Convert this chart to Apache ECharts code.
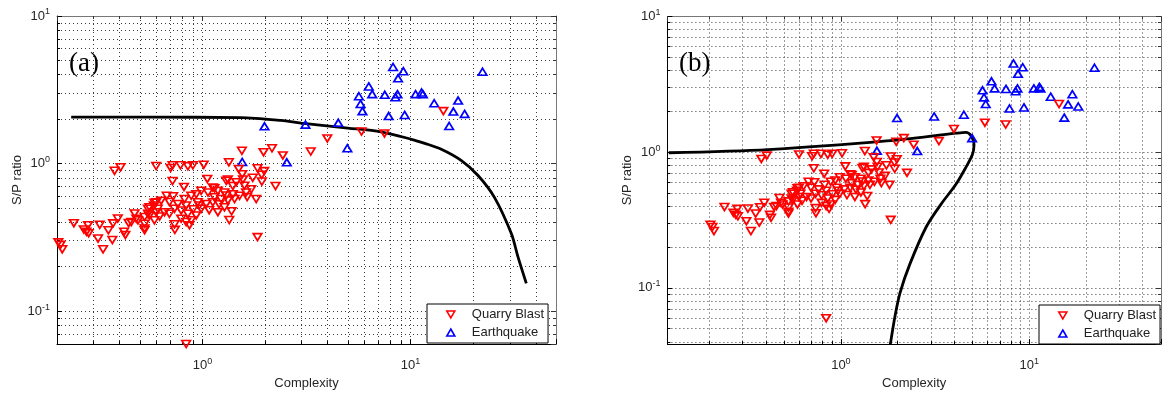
<!DOCTYPE html>
<html><head><meta charset="utf-8">
<script src="https://cdn.jsdelivr.net/npm/echarts@6/dist/echarts.min.js"></script>
<style>html,body{margin:0;padding:0;background:#fff}#c{width:1164px;height:395px}</style>
</head><body><div id="c"></div>
<script>
// ---- data ----
const seriesNames = ['Quarry Blast', 'Earthquake'];
const panelLabels = ['(a)', '(b)'];
const xName = 'Complexity';
const yName = 'S/P ratio';
const xRangeA = [0.2, 50];
const yRangeA = [0.0597, 10];
const xRangeB = [0.12, 50];
const yRangeB = [0.0385, 10];

const quarryBlast = [
  [0.203,0.292],[0.208,0.281],[0.212,0.262],[0.241,0.394],[0.269,0.357],[0.277,0.345],[0.282,0.382],[0.284,0.337],
  [0.315,0.31],[0.321,0.384],[0.333,0.262],[0.353,0.353],[0.369,0.303],[0.372,0.393],[0.392,0.424],[0.42,0.345],
  [0.426,0.328],[0.442,0.395],[0.472,0.459],[0.49,0.412],[0.527,0.363],[0.527,0.391],[0.527,0.434],[0.547,0.493],
  [0.556,0.445],[0.588,0.542],[0.61,0.493],[0.588,0.412],[0.622,0.438],[0.599,0.468],
  [0.378,0.892],[0.404,0.943],[0.599,0.962],[0.703,0.933],[0.718,0.973],[0.784,0.973],[0.851,0.958],[0.899,0.973],
  [1.014,0.982],[0.718,0.761],[0.815,0.694],[1.055,0.786],[1.34,1.019],[1.547,1.221],[1.965,1.193],[2.158,1.269],
  [2.433,1.135],[3.314,1.206],[3.98,1.48],[5.81,1.649],[7.49,1.6],[14.38,2.265],
  [1.493,0.919],[1.839,0.929],[1.98,0.888],[1.553,0.847],[1.745,0.8],[1.926,0.838],[1.565,0.78],[1.93,0.755],
  [1.3,0.764],[1.453,0.747],[1.592,0.708],[2.244,0.704],[1.715,0.669],[1.812,0.575],[1.64,0.592],[1.507,0.605],
  [1.4,0.619],[1.276,0.636],[1.186,0.653],[1.122,0.687],[1.063,0.636],[0.986,0.653],[0.933,0.619],[0.883,0.605],
  [0.82,0.575],[0.762,0.532],[0.723,0.6],[0.673,0.605],[0.633,0.56],[0.584,0.519],
  [0.657,0.468],[0.694,0.456],[0.734,0.493],[0.79,0.481],[0.851,0.456],[0.883,0.412],[0.933,0.445],[0.986,0.493],
  [1.043,0.532],[1.122,0.546],[1.186,0.468],[1.276,0.505],[1.345,0.414],[1.142,0.59],[1.229,0.575],[1.325,0.562],
  [1.426,0.575],[0.95,0.546],[0.835,0.519],[0.79,0.423],[0.835,0.401],[0.866,0.382],[0.734,0.387],[0.737,0.355],
  [1.4,0.704],[1.142,0.68],[1.839,0.317],[0.835,0.0598],[0.599,0.546],[0.694,0.548],
  [0.556,0.506],[0.481,0.423],[0.455,0.401],[0.547,0.456],[1.325,0.78],[0.527,0.353],
  [0.964,0.52],[1.077,0.483],[1.203,0.529],[1.38,0.475],[0.902,0.49],[1.3,0.607],[1.62,0.636]
];

const earthquake = [
  [1.553,1.024],[2.543,1.019],[1.987,1.787],[3.125,1.835],[4.495,1.888],[4.97,1.269],[6.3,3.33],[5.646,2.857],
  [6.543,2.954],[5.75,2.534],[5.872,2.265],[7.52,2.924],[7.85,2.098],[8.24,4.51],[9.23,4.227],[8.71,3.78],
  [8.65,2.954],[8.46,2.815],[9.37,2.136],[10.57,2.954],[11.3,3.03],[11.46,2.954],[12.99,2.563],[16.93,2.672],
  [16.06,2.25],[18.19,2.171],[15.33,1.797],[22.18,4.19]
];

const curveA = [
  [0.234,2.06],[0.57,2.06],[1.53,2.05],[2.39,1.96],[2.98,1.88],[5.0,1.74],[7.2,1.64],[10.1,1.46],[11.7,1.37],
  [14.05,1.25],[17.5,1.05],[21.1,0.83],[25.3,0.59],[30.5,0.335],[32.8,0.234],[36.0,0.154]
];

const curveB = [
  [0.122,0.99],[0.41,1.045],[1.75,1.21],[4.08,1.38],[4.6,1.40],[4.89,1.33],[5.09,1.14],[4.99,0.96],[4.6,0.77],
  [4.08,0.58],[3.41,0.416],[2.84,0.282],[2.32,0.149],[2.06,0.092],[1.94,0.0626],[1.83,0.0384]
];

// ---- chart ----
const FONT = 'Liberation Sans';
const TXT = '#262626';
const gridDot = { color: '#3a3a3a', width: 1, type: [1, 3] };
const DOWN_TRI = 'path://M0,0 L10,0 L5,8.66 Z';

function decadeLabel(v) {
  const e = Math.log10(v);
  const r = Math.round(e);
  if (Math.abs(e - r) > 1e-6) return '';
  return '{b|10}{s|' + r + '}';
}
const labelRich = {
  b: { fontSize: 13, color: TXT, fontFamily: FONT },
  s: { fontSize: 9, color: TXT, fontFamily: FONT, verticalAlign: 'bottom', padding: [0, 0, 8, 0] }
};

function mainX(gi, range) {
  return {
    type: 'log', logBase: 10, gridIndex: gi, min: range[0], max: range[1], position: 'bottom',
    axisLine: { show: true, lineStyle: { color: '#000', width: 1 } },
    axisTick: { show: true, inside: true, length: 5, lineStyle: { color: '#000' } },
    minorTick: { show: true, splitNumber: 9, length: 3, lineStyle: { color: '#000' } },
    axisLabel: { formatter: decadeLabel, rich: labelRich, margin: 13 },
    splitLine: { show: true, lineStyle: gridDot },
    minorSplitLine: { show: true, lineStyle: gridDot },
    name: xName, nameLocation: 'middle', nameGap: 30,
    nameTextStyle: { fontSize: 13, color: TXT, fontFamily: FONT }
  };
}
function boxX(gi, range) {
  return {
    type: 'log', logBase: 10, gridIndex: gi, min: range[0], max: range[1], position: 'top',
    axisLine: { show: true, lineStyle: { color: '#777', width: 1 } },
    axisTick: { show: true, inside: true, length: 5, lineStyle: { color: '#333' } },
    minorTick: { show: true, splitNumber: 9, length: 3, lineStyle: { color: '#333' } },
    axisLabel: { show: false }, splitLine: { show: false }, minorSplitLine: { show: false }
  };
}
function mainY(gi, range) {
  return {
    type: 'log', logBase: 10, gridIndex: gi, min: range[0], max: range[1], position: 'left',
    axisLine: { show: true, lineStyle: { color: '#000', width: 1 } },
    axisTick: { show: true, inside: true, length: 5, lineStyle: { color: '#000' } },
    minorTick: { show: true, splitNumber: 9, length: 3, lineStyle: { color: '#000' } },
    axisLabel: { formatter: decadeLabel, rich: labelRich, margin: 7 },
    splitLine: { show: true, lineStyle: gridDot },
    minorSplitLine: { show: true, lineStyle: gridDot },
    name: yName, nameLocation: 'middle', nameGap: 33,
    nameTextStyle: { fontSize: 13, color: TXT, fontFamily: FONT }
  };
}
function boxY(gi, range) {
  return {
    type: 'log', logBase: 10, gridIndex: gi, min: range[0], max: range[1], position: 'right',
    axisLine: { show: true, lineStyle: { color: '#777', width: 1 } },
    axisTick: { show: true, inside: true, length: 5, lineStyle: { color: '#333' } },
    minorTick: { show: true, splitNumber: 9, length: 3, lineStyle: { color: '#333' } },
    axisLabel: { show: false }, splitLine: { show: false }, minorSplitLine: { show: false }
  };
}

function scatterSeries(name, data, xi, yi, color, rotate, z) {
  return {
    type: 'scatter', name: name, data: data, xAxisIndex: xi, yAxisIndex: yi,
    symbol: 'triangle', symbolRotate: rotate, symbolSize: [8.5, 7], clip: false, z: z,
    itemStyle: { color: 'rgba(255,255,255,0)', borderColor: color, borderWidth: 1.7, opacity: 1 },
    emphasis: { disabled: true }
  };
}
function curveSeries(data, xi, yi) {
  return {
    type: 'line', data: data, xAxisIndex: xi, yAxisIndex: yi, showSymbol: false, symbol: 'none',
    smooth: 0.3, lineStyle: { color: '#000', width: 2.8 }, z: 2, silent: true
  };
}

function legendAt(left, top) {
  return {
    left: left, top: top, orient: 'vertical', selectedMode: false,
    data: [
      { name: seriesNames[0], icon: DOWN_TRI, itemStyle: { color: 'rgba(255,255,255,0)', borderColor: '#ff0000', borderWidth: 1.6 } },
      { name: seriesNames[1], icon: 'triangle', itemStyle: { color: 'rgba(255,255,255,0)', borderColor: '#0000ff', borderWidth: 1.6 } }
    ],
    backgroundColor: '#fff', borderColor: '#000', borderWidth: 1, borderRadius: 0,
    padding: [4, 4, 4, 19], itemGap: 5, itemWidth: 8, itemHeight: 7,
    textStyle: { fontSize: 13, color: '#222', fontFamily: FONT, padding: [0, 0, 0, 12] }
  };
}

const option = {
  animation: false,
  backgroundColor: '#fff',
  grid: [
    { left: 57, top: 16, width: 499, height: 333.3 },
    { left: 667.4, top: 16.5, width: 500.4, height: 332.8 }
  ],
  xAxis: [mainX(0, xRangeA), boxX(0, xRangeA), mainX(1, xRangeB), boxX(1, xRangeB)],
  yAxis: [mainY(0, yRangeA), boxY(0, yRangeA), mainY(1, yRangeB), boxY(1, yRangeB)],
  legend: [legendAt(427, 304), legendAt(1039, 305)],
  series: [
    curveSeries(curveA, 0, 0),
    scatterSeries(seriesNames[1], earthquake, 0, 0, '#0000ff', 0, 3),
    scatterSeries(seriesNames[0], quarryBlast, 0, 0, '#ff0000', 180, 4),
    curveSeries(curveB, 2, 2),
    scatterSeries(seriesNames[1], earthquake, 2, 2, '#0000ff', 0, 3),
    scatterSeries(seriesNames[0], quarryBlast, 2, 2, '#ff0000', 180, 4)
  ],
  graphic: [
    { type: 'text', left: 69, top: 50, style: { text: panelLabels[0], font: '27px "Liberation Serif"', fill: '#000' } },
    { type: 'text', left: 679, top: 50, style: { text: panelLabels[1], font: '27px "Liberation Serif"', fill: '#000' } }
  ]
};

const chart = echarts.init(document.getElementById('c'), null, { renderer: 'canvas' });
chart.setOption(option);
</script>
</body></html>
